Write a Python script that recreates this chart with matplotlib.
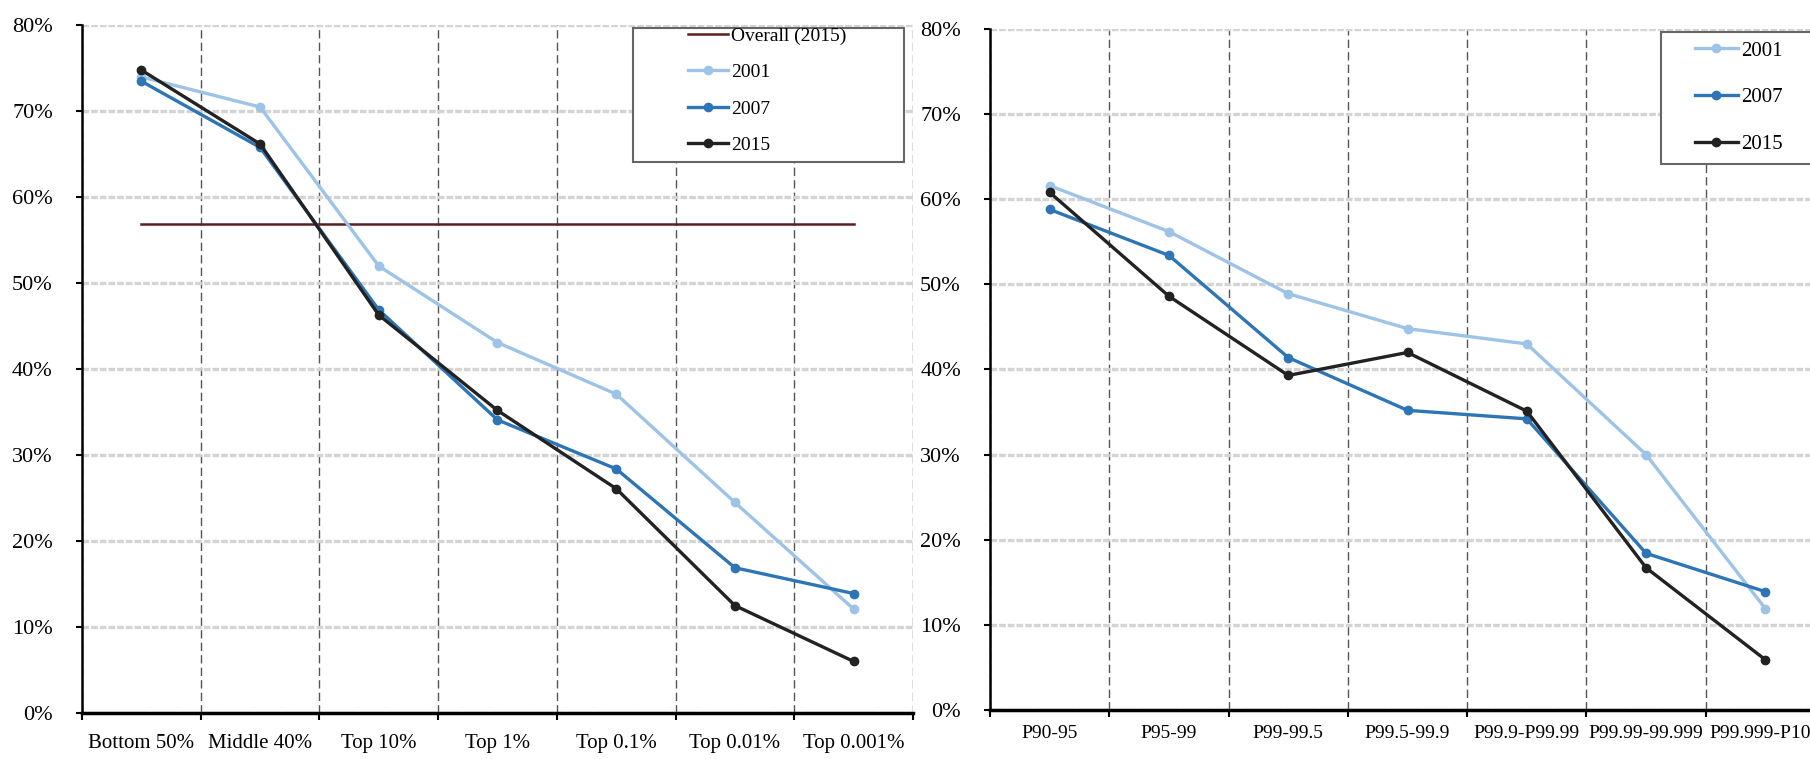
import matplotlib.pyplot as plt
import numpy as np
from matplotlib.ticker import FixedLocator, PercentFormatter
from matplotlib.patches import Rectangle

plt.rcParams['font.family'] = ['Liberation Serif', 'DejaVu Serif']

# left panel
groups_left = ["Bottom 50%", "Middle 40%", "Top 10%", "Top 1%", "Top 0.1%", "Top 0.01%", "Top 0.001%"]
left_2001 = [74.0, 70.5, 52.0, 43.1, 37.1, 24.5, 12.1]
left_2007 = [73.5, 65.8, 46.9, 34.1, 28.4, 16.9, 13.9]
left_2015 = [74.8, 66.2, 46.3, 35.2, 26.1, 12.5, 6.0]
overall_2015 = 56.9

# right panel
groups_right = ["P90-95", "P95-99", "P99-99.5", "P99.5-99.9", "P99.9-P99.99", "P99.99-99.999", "P99.999-P100"]
right_2001 = [61.6, 56.2, 48.9, 44.8, 43.0, 30.0, 11.9]
right_2007 = [58.8, 53.4, 41.4, 35.2, 34.2, 18.4, 13.9]
right_2015 = [60.8, 48.6, 39.3, 42.0, 35.1, 16.7, 5.9]

c2001 = '#9dc3e6'
c2007 = '#2e75b6'
c2015 = '#222222'
c_overall = '#5b1f1f'

W, H = 1810, 759
fig = plt.figure(figsize=(W / 100, H / 100), dpi=100)
ax1 = fig.add_axes([0.0453, 0.0606, 0.4591, 0.906])
ax2 = fig.add_axes([0.547, 0.0646, 0.4613, 0.8972])


def style_axes(ax, labels, xpad, xsize):
    n = len(labels)
    ax.set_xlim(-0.5, n - 0.5)
    ax.set_ylim(0, 80)
    ax.xaxis.set_major_locator(FixedLocator(np.arange(n + 1) - 0.5))
    ax.xaxis.set_minor_locator(FixedLocator(np.arange(n)))
    ax.set_xticklabels([], minor=False)
    ax.set_xticklabels(labels, minor=True, fontsize=xsize)
    ax.tick_params(axis='x', which='minor', length=0, pad=xpad)
    ax.tick_params(axis='x', which='major', length=5, width=1.5, direction='out')
    ax.set_yticks(np.arange(0, 81, 10))
    ax.yaxis.set_major_formatter(PercentFormatter(decimals=0))
    ax.tick_params(axis='y', length=4, width=1.5, direction='out', pad=17, labelsize=16)
    ax.grid(axis='y', color='#d4d4d4', lw=2.4, ls=(0, (2, 0.6)), zorder=0)
    ax.grid(axis='x', which='major', color='#555555', lw=1, ls=(0, (6, 3)), zorder=0)
    for s in ['top', 'right']:
        ax.spines[s].set_visible(False)
    ax.spines['left'].set_linewidth(1.8)
    ax.spines['bottom'].set_linewidth(2.5)
    ax.set_axisbelow(True)


style_axes(ax1, groups_left, 15, 15)
style_axes(ax2, groups_right, 11, 14)

x = np.arange(len(groups_left))
ax1.plot(x, [overall_2015] * len(x), color=c_overall, lw=1.8, label='Overall (2015)')
ax1.plot(x, left_2001, color=c2001, lw=2.4, marker='o', ms=6, label='2001')
ax1.plot(x, left_2007, color=c2007, lw=2.4, marker='o', ms=6, label='2007')
ax1.plot(x, left_2015, color=c2015, lw=2.4, marker='o', ms=6, label='2015')

x = np.arange(len(groups_right))
ax2.plot(x, right_2001, color=c2001, lw=2.4, marker='o', ms=6, label='2001')
ax2.plot(x, right_2007, color=c2007, lw=2.4, marker='o', ms=6, label='2007')
ax2.plot(x, right_2015, color=c2015, lw=2.4, marker='o', ms=6, label='2015')

# legend boxes drawn by hand (pixel boxes from the reference)
for ax, box, start, size, spacing in [(ax1, (633, 28, 904, 162), (688, 27), 14, 0.97),
                                       (ax2, (1661, 32, 1840, 164), (1695, 41), 15, 1.3)]:
    x0, y0, x1, y1 = box
    rect = Rectangle((x0 / W, 1 - y1 / H), (x1 - x0) / W, (y1 - y0) / H, transform=fig.transFigure,
                     facecolor='white', edgecolor='#666666', lw=1.5, zorder=3, clip_on=False)
    ax.add_artist(rect)
    leg = ax.legend(loc='upper left', bbox_to_anchor=(start[0] / W, 1 - start[1] / H),
                    bbox_transform=fig.transFigure, fontsize=size, frameon=False,
                    borderpad=0, borderaxespad=0, labelspacing=spacing,
                    handlelength=2.05, handletextpad=0.15)
    leg.set_zorder(4)

fig.savefig('out.png', dpi=100)
